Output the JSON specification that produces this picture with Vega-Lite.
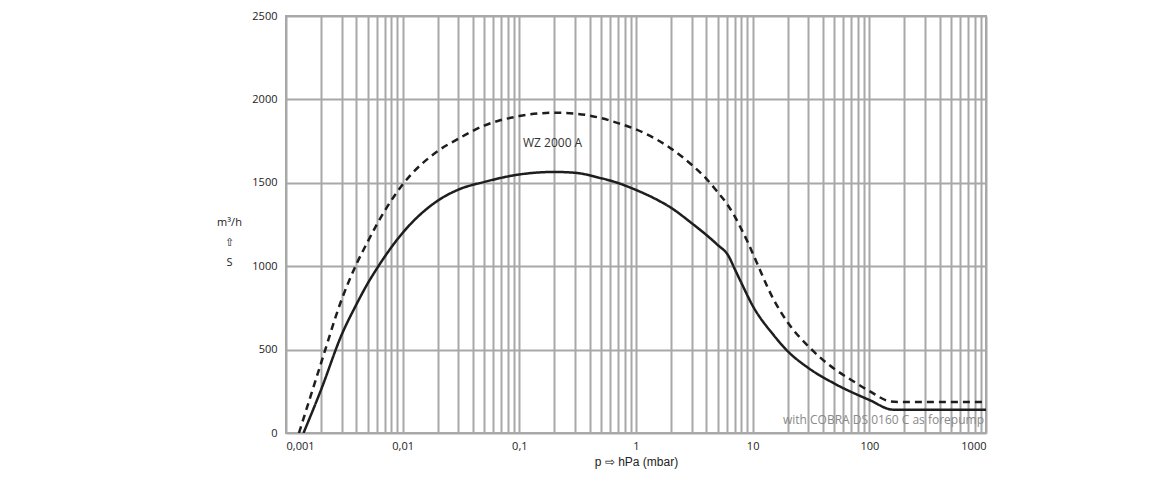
{
  "$schema": "https://vega.github.io/schema/vega-lite/v6.json",
  "width": 700,
  "height": 417,
  "autosize": {"type": "none"},
  "padding": {"left": 286, "top": 16, "right": 174, "bottom": 47},
  "background": "white",
  "config": {
    "view": {"stroke": "#a8a8a8", "strokeWidth": 2},
    "font": "Liberation Sans"
  },
  "datasets": {
    "curves": [
      {"p": 0.001413, "S": 0, "series": "solid"},
      {"p": 0.002, "S": 260, "series": "solid"},
      {"p": 0.003, "S": 589, "series": "solid"},
      {"p": 0.004, "S": 769, "series": "solid"},
      {"p": 0.005, "S": 895, "series": "solid"},
      {"p": 0.006, "S": 985, "series": "solid"},
      {"p": 0.01, "S": 1200, "series": "solid"},
      {"p": 0.02, "S": 1393, "series": "solid"},
      {"p": 0.03, "S": 1459, "series": "solid"},
      {"p": 0.05, "S": 1505, "series": "solid"},
      {"p": 0.1, "S": 1550, "series": "solid"},
      {"p": 0.2, "S": 1565, "series": "solid"},
      {"p": 0.3, "S": 1560, "series": "solid"},
      {"p": 0.5, "S": 1528, "series": "solid"},
      {"p": 0.7, "S": 1499, "series": "solid"},
      {"p": 1, "S": 1457, "series": "solid"},
      {"p": 1.5, "S": 1400, "series": "solid"},
      {"p": 2, "S": 1350, "series": "solid"},
      {"p": 3, "S": 1258, "series": "solid"},
      {"p": 4, "S": 1188, "series": "solid"},
      {"p": 5, "S": 1128, "series": "solid"},
      {"p": 6.2, "S": 1062, "series": "solid"},
      {"p": 7, "S": 985, "series": "solid"},
      {"p": 8, "S": 900, "series": "solid"},
      {"p": 10, "S": 763, "series": "solid"},
      {"p": 15, "S": 590, "series": "solid"},
      {"p": 20, "S": 490, "series": "solid"},
      {"p": 30, "S": 390, "series": "solid"},
      {"p": 50, "S": 297, "series": "solid"},
      {"p": 100, "S": 198, "series": "solid"},
      {"p": 160, "S": 140, "series": "solid"},
      {"p": 1000, "S": 140, "series": "solid"},
      {"p": 0.001292, "S": 0, "series": "dashed"},
      {"p": 0.002, "S": 420, "series": "dashed"},
      {"p": 0.003, "S": 800, "series": "dashed"},
      {"p": 0.004, "S": 1010, "series": "dashed"},
      {"p": 0.005, "S": 1145, "series": "dashed"},
      {"p": 0.006, "S": 1250, "series": "dashed"},
      {"p": 0.01, "S": 1490, "series": "dashed"},
      {"p": 0.02, "S": 1690, "series": "dashed"},
      {"p": 0.03, "S": 1764, "series": "dashed"},
      {"p": 0.05, "S": 1843, "series": "dashed"},
      {"p": 0.1, "S": 1900, "series": "dashed"},
      {"p": 0.2, "S": 1920, "series": "dashed"},
      {"p": 0.3, "S": 1915, "series": "dashed"},
      {"p": 0.5, "S": 1888, "series": "dashed"},
      {"p": 0.7, "S": 1858, "series": "dashed"},
      {"p": 1, "S": 1820, "series": "dashed"},
      {"p": 1.5, "S": 1760, "series": "dashed"},
      {"p": 2, "S": 1705, "series": "dashed"},
      {"p": 3, "S": 1608, "series": "dashed"},
      {"p": 4, "S": 1525, "series": "dashed"},
      {"p": 5, "S": 1445, "series": "dashed"},
      {"p": 6, "S": 1375, "series": "dashed"},
      {"p": 7, "S": 1300, "series": "dashed"},
      {"p": 8, "S": 1222, "series": "dashed"},
      {"p": 9, "S": 1150, "series": "dashed"},
      {"p": 10, "S": 1078, "series": "dashed"},
      {"p": 15, "S": 805, "series": "dashed"},
      {"p": 20, "S": 662, "series": "dashed"},
      {"p": 30, "S": 520, "series": "dashed"},
      {"p": 50, "S": 385, "series": "dashed"},
      {"p": 70, "S": 318, "series": "dashed"},
      {"p": 100, "S": 252, "series": "dashed"},
      {"p": 150, "S": 190, "series": "dashed"},
      {"p": 180, "S": 186, "series": "dashed"},
      {"p": 1000, "S": 186, "series": "dashed"}
    ],
    "labelModel": [
      {"p": 0.1075, "S": 1740, "text": "WZ 2000 A"}
    ],
    "labelPump": [
      {"p": 1000, "S": 80, "text": "with COBRA DS 0160 C as forepump"}
    ]
  },
  "layer": [
    {
      "data": {"name": "labelPump"},
      "mark": {"type": "text", "font": "Open Sans", "fontSize": 12, "baseline": "middle", "align": "right", "dx": -2, "color": "#8a8a8a"},
      "encoding": {
        "x": {"field": "p", "type": "quantitative"},
        "y": {"field": "S", "type": "quantitative"},
        "text": {"field": "text"}
      }
    },
    {
      "data": {"name": "curves"},
      "mark": {"type": "line", "interpolate": "monotone", "strokeWidth": 2.5, "color": "#1e1e1e", "clip": true},
      "encoding": {
        "x": {
          "field": "p", "type": "quantitative",
          "scale": {"type": "log", "domain": [0.001, 1000], "nice": false},
          "axis": {
            "values": [0.001,0.002,0.003,0.004,0.005,0.006,0.007,0.008,0.009,
                       0.01,0.02,0.03,0.04,0.05,0.06,0.07,0.08,0.09,
                       0.1,0.2,0.3,0.4,0.5,0.6,0.7,0.8,0.9,
                       1,2,3,4,5,6,7,8,9,
                       10,20,30,40,50,60,70,80,90,
                       100,200,300,400,500,600,700,800,900,1000],
            "labelExpr": "abs(log(datum.value)/LN10 - round(log(datum.value)/LN10)) < 0.000001 ? replace(format(datum.value, ''), '.', ',') : ''",
            "labelOverlap": false,
            "labelFlush": true,
            "labelPadding": 7,
            "labelFontSize": 11,
            "labelColor": "#222",
            "labelFont": "Open Sans",
            "ticks": false,
            "domain": false,
            "grid": true,
            "gridColor": "#a8a8a8",
            "gridWidth": 2,
            "gridOpacity": 1,
            "title": "p ⇨ hPa (mbar)",
            "titleFont": "Liberation Sans",
            "titleFontSize": 12,
            "titleFontWeight": "normal",
            "titleColor": "#222",
            "titleY": 28,
            "titleBaseline": "middle"
          }
        },
        "y": {
          "field": "S", "type": "quantitative",
          "scale": {"domain": [0, 2500], "nice": false},
          "axis": {
            "values": [0, 500, 1000, 1500, 2000, 2500],
            "format": "d",
            "labelPadding": 9,
            "labelFontSize": 11,
            "labelColor": "#222",
            "labelFont": "Open Sans",
            "ticks": false,
            "domain": false,
            "grid": true,
            "gridColor": "#a8a8a8",
            "gridWidth": 2,
            "gridOpacity": 1,
            "title": ["m³/h", "⇧", "S"],
            "titleAngle": 0,
            "titleAlign": "center",
            "titleBaseline": "middle",
            "titleX": -57,
            "titleY": 206,
            "titleLineHeight": 20,
            "titleFont": "Open Sans",
            "titleFontSize": 11,
            "titleFontWeight": "normal",
            "titleColor": "#222"
          }
        },
        "detail": {"field": "series"},
        "strokeDash": {
          "field": "series", "type": "nominal",
          "scale": {"domain": ["solid", "dashed"], "range": [[1, 0], [7, 5]]},
          "legend": null
        }
      }
    },
    {
      "data": {"name": "labelModel"},
      "mark": {"type": "text", "font": "Open Sans", "fontSize": 12, "baseline": "middle", "align": "left", "color": "#333333"},
      "encoding": {
        "x": {"field": "p", "type": "quantitative"},
        "y": {"field": "S", "type": "quantitative"},
        "text": {"field": "text"}
      }
    }
  ]
}
